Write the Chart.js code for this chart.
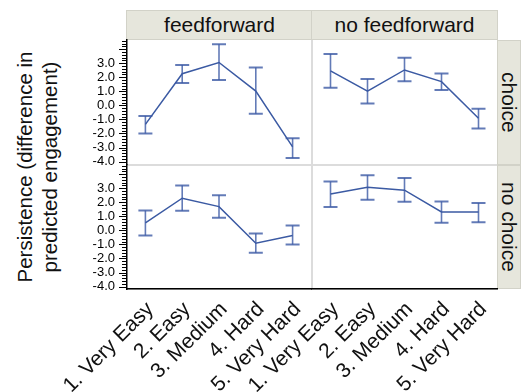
<!DOCTYPE html>
<html>
<head>
<meta charset="utf-8">
<script src="https://cdn.jsdelivr.net/npm/chart.js@4"></script>
<style>
  html, body { margin:0; padding:0; background:#fff; }
  #wrap { position:relative; width:523px; height:392px; overflow:hidden; font-family:"Liberation Sans", Arial, sans-serif; color:#111; }
  canvas { position:absolute; left:0; top:0; }
  .strip { position:absolute; background:#e6e6dc; border:1px solid #d2d2c8; box-sizing:border-box; display:flex; align-items:center; justify-content:center; font-size:21px; color:#111; }
  .vtext { writing-mode:vertical-rl; }
  .panel { position:absolute; border:1px solid #dcdcdc; box-sizing:border-box; }
  #ytitle { position:absolute; left:37px; top:167px; transform:translate(-50%,-50%) rotate(-90deg); white-space:nowrap; text-align:center; font-size:20.5px; line-height:25px; color:#111; }
</style>
</head>
<body>
<div id="wrap">
  <div class="panel" style="left:126px; top:39px; width:187px; height:127px;"></div>
  <div class="panel" style="left:311px; top:39px; width:187px; height:127px;"></div>
  <div class="panel" style="left:126px; top:164px; width:187px; height:126px;"></div>
  <div class="panel" style="left:311px; top:164px; width:187px; height:126px;"></div>
  <div class="strip" style="left:126px; top:10px; width:187px; height:30px;">feedforward</div>
  <div class="strip" style="left:311px; top:10px; width:187px; height:30px;">no feedforward</div>
  <div class="strip" style="left:497px; top:40px; width:24px; height:125px;"><span class="vtext">choice</span></div>
  <div class="strip" style="left:497px; top:165px; width:24px; height:124px;"><span class="vtext">no choice</span></div>
  <div id="ytitle">Persistence (difference in<br>predicted engagement)</div>
  <canvas id="c1" width="523" height="392"></canvas>
  <canvas id="c2" width="523" height="392"></canvas>
  <canvas id="c3" width="523" height="392"></canvas>
  <canvas id="c4" width="523" height="392"></canvas>
</div>
<script>
// ---- data ----
const categories = ["1. Very Easy", "2. Easy", "3. Medium", "4. Hard", "5. Very Hard"];
const colFacets = ["feedforward", "no feedforward"];
const rowFacets = ["choice", "no choice"];

const ffChoiceMean = [-1.35, 2.25, 3.05, 1.02, -2.95];
const ffChoiceLo   = [-2.0, 1.6, 1.8, -0.6, -3.75];
const ffChoiceHi   = [-0.75, 2.88, 4.35, 2.7, -2.33];

const noffChoiceMean = [2.45, 1.02, 2.52, 1.69, -0.91];
const noffChoiceLo   = [1.26, 0.14, 1.71, 1.09, -1.64];
const noffChoiceHi   = [3.66, 1.88, 3.38, 2.26, -0.24];

const ffNoChoiceMean = [0.53, 2.29, 1.69, -0.91, -0.37];
const ffNoChoiceLo   = [-0.37, 1.39, 0.89, -1.6, -1.01];
const ffNoChoiceHi   = [1.41, 3.19, 2.5, -0.23, 0.34];

const noffNoChoiceMean = [2.59, 3.07, 2.86, 1.31, 1.31];
const noffNoChoiceLo   = [1.67, 2.17, 2.03, 0.55, 0.58];
const noffNoChoiceHi   = [3.47, 3.92, 3.73, 2.05, 1.95];

const yTickLabels = [-4, -3, -2, -1, 0, 1, 2, 3];
const yMinorStep = 0.2;
const yTickMin = -4, yTickMax = 4.6;

// ---- helpers ----
const FONT = '"Liberation Sans", Arial, sans-serif';
const LINE = '#3b5aa3';
const BAR = 'rgba(60,90,165,0.8)';
const Y_MIN = -4.17, Y_MAX = 4.65;

const yTickValues = [];
for (let i = 0; yTickMin + i * yMinorStep <= yTickMax + 1e-9; i++) {
  yTickValues.push(Math.round((yTickMin + i * yMinorStep) * 10) / 10);
}

const errorBars = {
  id: 'errorBars',
  afterDatasetsDraw(chart, args, opts) {
    const ctx = chart.ctx, xs = chart.scales.x, ys = chart.scales.y;
    ctx.save();
    ctx.strokeStyle = BAR;
    opts.lo.forEach((lo, i) => {
      const hi = opts.hi[i];
      const x = xs.getPixelForValue(i);
      const y1 = ys.getPixelForValue(lo), y2 = ys.getPixelForValue(hi);
      ctx.lineWidth = 1.6;
      ctx.beginPath(); ctx.moveTo(x, y1); ctx.lineTo(x, y2); ctx.stroke();
      ctx.lineWidth = 2;
      ctx.beginPath();
      ctx.moveTo(x - 7, y1); ctx.lineTo(x + 7, y1);
      ctx.moveTo(x - 7, y2); ctx.lineTo(x + 7, y2);
      ctx.stroke();
    });
    ctx.restore();
  }
};

const yTicksDraw = {
  id: 'yTicksDraw',
  afterDraw(chart, args, opts) {
    if (!opts.on) return;
    const ys = chart.scales.y, ctx = chart.ctx;
    const x0 = chart.chartArea.left;
    ctx.save();
    ctx.strokeStyle = '#000';
    ctx.lineWidth = 1;
    yTickValues.forEach(v => {
      const y = Math.round(ys.getPixelForValue(v)) + 0.5;
      if (y < chart.chartArea.top - 1 || y > chart.chartArea.bottom + 1) return;
      const major = Math.abs(v - Math.round(v)) < 1e-6;
      const len = major ? 8 : 5;
      ctx.beginPath(); ctx.moveTo(x0 - len, y); ctx.lineTo(x0, y); ctx.stroke();
    });
    ctx.restore();
  }
};

function makeChart(id, mean, lo, hi, showY, showX, padding) {
  return new Chart(document.getElementById(id), {
    type: 'line',
    data: {
      labels: categories,
      datasets: [{
        data: mean, borderColor: LINE, borderWidth: 1.5, tension: 0,
        pointRadius: 0, fill: false
      }]
    },
    options: {
      responsive: false, animation: false,
      layout: { padding },
      plugins: {
        legend: { display: false }, tooltip: { enabled: false },
        errorBars: { lo, hi },
        yTicksDraw: { on: showY }
      },
      scales: {
        x: {
          type: 'category', offset: true, display: showX,
          grid: { display: false, drawTicks: false },
          border: { display: true, color: '#000', width: 1.5 },
          ticks: {
            autoSkip: false, minRotation: 45, maxRotation: 45, padding: 8, labelOffset: 5,
            color: '#111', font: { family: FONT, size: 21 }
          },
          afterFit: s => { s.height = showX ? 103 : 0; }
        },
        y: {
          type: 'linear', min: Y_MIN, max: Y_MAX, display: showY,
          afterBuildTicks: s => { s.ticks = yTickValues.map(v => ({ value: v })); },
          grid: { display: true, drawOnChartArea: false, drawTicks: true, tickLength: 9, tickColor: 'rgba(0,0,0,0)' },
          border: { display: true, color: '#000', width: 1.5 },
          ticks: {
            autoSkip: false, padding: 3, color: '#000',
            font: { family: FONT, size: 13 },
            callback: v => yTickLabels.includes(Math.round(v * 10) / 10) ? v.toFixed(1) : ''
          },
          afterFit: s => { s.width = showY ? 127 : 0; }
        }
      }
    },
    plugins: [errorBars, yTicksDraw]
  });
}

makeChart('c1', ffChoiceMean, ffChoiceLo, ffChoiceHi, true, false, { left: 0, top: 40, right: 212, bottom: 228 });
makeChart('c2', noffChoiceMean, noffChoiceLo, noffChoiceHi, false, false, { left: 312, top: 40, right: 26, bottom: 228 });
makeChart('c3', ffNoChoiceMean, ffNoChoiceLo, ffNoChoiceHi, true, true, { left: 0, top: 165, right: 212, bottom: 0 });
makeChart('c4', noffNoChoiceMean, noffNoChoiceLo, noffNoChoiceHi, false, true, { left: 312, top: 165, right: 26, bottom: 0 });
</script>
</body>
</html>
